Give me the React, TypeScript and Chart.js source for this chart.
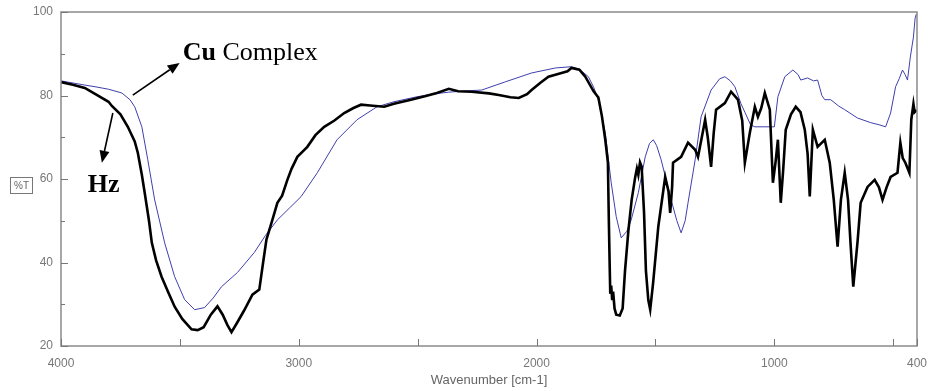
import React, { useEffect, useRef } from "react";
import { Chart, registerables } from "chart.js";

Chart.register(...registerables);

// ---- Data (wavenumber in cm-1, transmittance in %T) ----
const hzWavenumber = [
  4000, 3950, 3900, 3857, 3800, 3786, 3750, 3719, 3690, 3677, 3660, 3648, 3630, 3618, 3600, 3577, 3550, 3522, 3490, 3451,
  3425, 3400, 3370, 3342, 3320, 3300, 3283, 3260, 3230, 3195, 3166, 3150, 3136, 3111, 3090, 3070, 3048, 3030, 3006, 2985,
  2964, 2930, 2893, 2850, 2809, 2770, 2738, 2700, 2641, 2600, 2528, 2470, 2419, 2369, 2330, 2273, 2200, 2159, 2110, 2075,
  2040, 2021, 1985, 1950, 1895, 1870, 1853, 1820, 1795, 1760, 1740, 1725, 1711, 1700, 1696, 1692, 1690, 1686, 1682, 1678,
  1672, 1665, 1650, 1638, 1628, 1614, 1600, 1585, 1578, 1572, 1565, 1558, 1548, 1540, 1530, 1522, 1510, 1488, 1470, 1459,
  1445, 1438, 1430, 1426, 1392, 1363, 1333, 1321, 1305, 1291, 1280, 1266, 1255, 1245, 1208, 1182, 1153, 1135, 1124, 1103,
  1082, 1069, 1055, 1040, 1019, 1006, 995, 985, 973, 963, 952, 930, 910, 890, 872, 860, 851, 838, 818, 788,
  767, 750, 734, 720, 704, 690, 680, 668, 650, 637, 608, 578, 560, 545, 528, 511, 482, 470, 460, 449,
  432, 424, 415, 410, 402,
];
const hzTransmittance = [
  83.2, 82.6, 81.8, 80.4, 78.5, 77.5, 75.5, 72.5, 69.0, 66.3, 61.0, 56.7, 50.0, 44.7, 40.5, 36.6, 33.0, 29.4, 26.5, 24.0,
  23.8, 24.5, 27.5, 29.5, 27.5, 25.0, 23.3, 25.5, 28.5, 32.3, 33.5, 40.0, 45.5, 50.2, 54.3, 56.0, 59.8, 62.5, 65.3, 66.5,
  67.7, 70.5, 72.5, 74.0, 75.8, 77.0, 77.8, 77.6, 77.3, 78.0, 79.0, 79.8, 80.6, 81.6, 81.0, 80.9, 80.5, 80.1, 79.6, 79.4,
  80.3, 81.3, 83.0, 84.5, 85.4, 85.8, 86.6, 86.2, 84.5, 81.0, 79.5, 75.0, 69.4, 64.0, 50.0, 38.0, 32.5, 34.5, 31.0, 33.0,
  29.0, 27.5, 27.3, 29.0, 38.0, 47.5, 55.0, 60.5, 62.5, 61.0, 64.0, 63.0, 52.0, 38.0, 31.0, 28.7, 35.0, 48.6, 56.0, 60.5,
  57.0, 51.9, 58.0, 63.9, 65.3, 68.7, 67.0, 65.3, 70.0, 74.2, 70.0, 62.9, 71.0, 76.6, 78.2, 80.9, 79.0, 74.0, 63.9, 71.1,
  77.3, 74.9, 77.0, 80.6, 76.6, 59.1, 64.0, 69.4, 54.3, 62.0, 71.8, 75.5, 77.3, 76.0, 71.8, 66.0, 55.8, 71.8, 67.7, 69.4,
  63.9, 55.0, 43.8, 55.0, 61.5, 55.0, 45.0, 34.2, 45.0, 54.3, 58.1, 59.8, 58.0, 55.0, 58.0, 60.5, 61.5, 68.7, 65.0, 63.9,
  61.5, 74.2, 78.0, 76.0, 76.5,
];

const cuWavenumber = [
  4000, 3950, 3900, 3857, 3800, 3744, 3710, 3690, 3660, 3635, 3606, 3564, 3522, 3480, 3438, 3396, 3360, 3325, 3258, 3187,
  3140, 3090, 3040, 2990, 2922, 2839, 2755, 2671, 2600, 2503, 2430, 2369, 2300, 2231, 2130, 2021, 1920, 1853, 1820, 1782,
  1760, 1740, 1711, 1686, 1665, 1644, 1620, 1602, 1572, 1543, 1525, 1509, 1495, 1476, 1434, 1410, 1392, 1375, 1363, 1333,
  1308, 1266, 1230, 1208, 1185, 1166, 1140, 1124, 1100, 1082, 1040, 1000, 985, 956, 922, 900, 889, 860, 835, 818,
  800, 788, 763, 730, 704, 650, 595, 560, 532, 511, 490, 475, 461, 450, 440, 428, 415, 408, 403,
];
const cuTransmittance = [
  83.5, 83.0, 82.5, 82.1, 81.5, 80.6, 79.0, 77.3, 72.5, 64.6, 55.0, 44.7, 36.6, 31.1, 28.7, 29.2, 31.5, 34.2, 37.6, 42.4,
  46.5, 50.2, 53.0, 55.8, 61.5, 69.4, 74.2, 77.3, 78.5, 79.7, 80.4, 80.8, 81.1, 81.3, 83.3, 85.4, 86.6, 86.9, 86.3, 84.5,
  82.0, 79.0, 71.1, 59.1, 51.0, 45.9, 47.5, 50.2, 56.7, 65.3, 68.5, 69.4, 68.0, 64.6, 55.0, 50.0, 47.1, 50.0, 54.3, 64.6,
  74.9, 81.3, 84.0, 84.5, 83.5, 82.1, 78.0, 76.0, 73.0, 72.5, 72.5, 72.5, 79.7, 84.5, 86.1, 85.0, 83.7, 84.2, 83.5, 83.7,
  80.0, 79.0, 79.0, 77.5, 76.6, 74.6, 73.5, 73.0, 72.5, 75.8, 82.1, 84.0, 86.1, 85.0, 83.7, 89.2, 94.0, 98.5, 99.5,
];

const xTickValues = [4000, 3000, 2000, 1000, 400];
const xMinorTicks = [3500, 2500, 1500, 500];
const yTickValues = [20, 40, 60, 80, 100];
const yMinorTicks = [30, 50, 70, 90];

// annotation anchors in data units [wavenumber, %T]
const cuArrow = [3698, 80.1, 3501, 87.8];
const cuLabelAt = [3488, 88.5];
const hzArrow = [3782, 75.8, 3828, 63.9];
const hzLabelAt = [3887, 56.9];

function drawArrow(ctx: CanvasRenderingContext2D, x1: number, y1: number, x2: number, y2: number) {
  const ang = Math.atan2(y2 - y1, x2 - x1);
  const head = 12;
  const half = 5;
  const bx = x2 - head * Math.cos(ang);
  const by = y2 - head * Math.sin(ang);
  ctx.beginPath();
  ctx.moveTo(x1, y1);
  ctx.lineTo(bx, by);
  ctx.lineWidth = 1.6;
  ctx.strokeStyle = "#000";
  ctx.stroke();
  ctx.beginPath();
  ctx.moveTo(x2, y2);
  ctx.lineTo(bx + half * Math.sin(ang), by - half * Math.cos(ang));
  ctx.lineTo(bx - half * Math.sin(ang), by + half * Math.cos(ang));
  ctx.closePath();
  ctx.fillStyle = "#000";
  ctx.fill();
}

const decorPlugin = {
  id: "decor",
  afterDraw(chart: any) {
    const { ctx, chartArea: a, scales } = chart;
    const xs = scales.x;
    const ys = scales.y;
    ctx.save();
    // frame
    ctx.strokeStyle = "#8a8a8a";
    ctx.lineWidth = 1.5;
    ctx.strokeRect(a.left, a.top, a.right - a.left, a.bottom - a.top);
    // inner ticks
    ctx.strokeStyle = "#777";
    ctx.lineWidth = 1;
    ctx.beginPath();
    yTickValues.forEach((v) => {
      const y = Math.round(ys.getPixelForValue(v)) + 0.5;
      ctx.moveTo(a.left, y);
      ctx.lineTo(a.left + 7, y);
    });
    yMinorTicks.forEach((v) => {
      const y = Math.round(ys.getPixelForValue(v)) + 0.5;
      ctx.moveTo(a.left, y);
      ctx.lineTo(a.left + 4, y);
    });
    [...xTickValues, ...xMinorTicks].forEach((v) => {
      const x = Math.round(xs.getPixelForValue(v)) + 0.5;
      ctx.moveTo(x, a.bottom);
      ctx.lineTo(x, a.bottom - 7);
    });
    ctx.stroke();
    // %T boxed label
    ctx.strokeStyle = "#777";
    ctx.strokeRect(10.5, 177.5, 22, 16);
    ctx.fillStyle = "#666";
    ctx.font = "10px 'Liberation Sans'";
    ctx.textAlign = "center";
    ctx.textBaseline = "middle";
    ctx.fillText("%T", 21.5, 186);
    // arrows
    drawArrow(
      ctx,
      xs.getPixelForValue(cuArrow[0]), ys.getPixelForValue(cuArrow[1]),
      xs.getPixelForValue(cuArrow[2]), ys.getPixelForValue(cuArrow[3])
    );
    drawArrow(
      ctx,
      xs.getPixelForValue(hzArrow[0]), ys.getPixelForValue(hzArrow[1]),
      xs.getPixelForValue(hzArrow[2]), ys.getPixelForValue(hzArrow[3])
    );
    // labels
    ctx.fillStyle = "#000";
    ctx.textAlign = "left";
    ctx.textBaseline = "alphabetic";
    const cx = xs.getPixelForValue(cuLabelAt[0]);
    const cy = ys.getPixelForValue(cuLabelAt[1]);
    ctx.font = "bold 26px 'Liberation Serif'";
    ctx.fillText("Cu", cx, cy);
    const w = ctx.measureText("Cu ").width;
    ctx.font = "26px 'Liberation Serif'";
    ctx.fillText("Complex", cx + w, cy);
    ctx.font = "bold 26px 'Liberation Serif'";
    ctx.fillText("Hz", xs.getPixelForValue(hzLabelAt[0]), ys.getPixelForValue(hzLabelAt[1]));
    ctx.restore();
  },
};

export default function App() {
  const canvasRef = useRef<HTMLCanvasElement | null>(null);

  useEffect(() => {
    if (!canvasRef.current) return;
    const hzData = hzWavenumber.map((x, i) => ({ x, y: hzTransmittance[i] }));
    const cuData = cuWavenumber.map((x, i) => ({ x, y: cuTransmittance[i] }));
    const chart = new Chart(canvasRef.current, {
      type: "line",
      data: {
        datasets: [
          {
            label: "Hz",
            data: hzData,
            borderColor: "#000000",
            borderWidth: 2.6,
            pointRadius: 0,
            tension: 0,
            fill: false,
          },
          {
            label: "Cu Complex",
            data: cuData,
            borderColor: "#3f3fae",
            borderWidth: 1,
            pointRadius: 0,
            tension: 0,
            fill: false,
          },
        ],
      },
      options: {
        animation: false,
        responsive: false,
        devicePixelRatio: 1,
        layout: { padding: { top: 12, right: 13, left: 0, bottom: 0 } },
        plugins: { legend: { display: false }, tooltip: { enabled: false } },
        scales: {
          x: {
            type: "linear",
            reverse: true,
            min: 400,
            max: 4000,
            afterBuildTicks: (s: any) => {
              s.ticks = xTickValues.map((v) => ({ value: v }));
            },
            afterFit: (s: any) => {
              s.height = 45;
              s.paddingLeft = 0;
              s.paddingRight = 0;
            },
            grid: { display: false, drawTicks: false },
            border: { display: false },
            ticks: {
              autoSkip: false,
              maxRotation: 0,
              padding: 10,
              color: "#777",
              font: { family: "'Liberation Sans'", size: 12 },
              callback: (v: any) => String(v),
            },
            title: {
              display: true,
              text: "Wavenumber [cm-1]",
              color: "#666",
              font: { family: "'Liberation Sans'", size: 13 },
              padding: { top: 0, bottom: 3 },
            },
          },
          y: {
            type: "linear",
            min: 20,
            max: 100,
            afterBuildTicks: (s: any) => {
              s.ticks = yTickValues.map((v) => ({ value: v }));
            },
            afterFit: (s: any) => {
              s.width = 61;
              s.paddingTop = 0;
              s.paddingBottom = 0;
            },
            grid: { display: false, drawTicks: false },
            border: { display: false },
            ticks: {
              autoSkip: false,
              padding: 8,
              color: "#777",
              font: { family: "'Liberation Sans'", size: 12 },
            },
          },
        },
      },
      plugins: [decorPlugin],
    });
    return () => chart.destroy();
  }, []);

  return (
    <div style={{ position: "fixed", left: 0, top: 0, width: 930, height: 391, background: "#fff" }}>
      <canvas ref={canvasRef} width={930} height={391} style={{ display: "block" }} />
    </div>
  );
}
